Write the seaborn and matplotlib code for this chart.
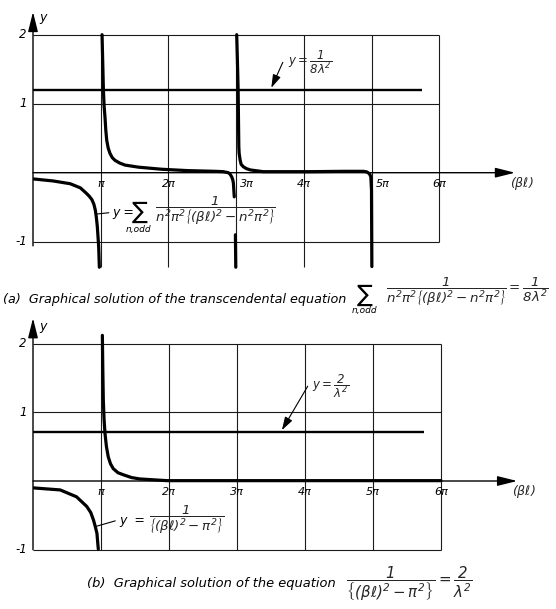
import matplotlib
matplotlib.use("Agg")
import matplotlib.pyplot as plt
import seaborn as sns

sns.set_style("white")
plt.rcParams["font.family"] = ["DejaVu Sans"]
plt.rcParams["mathtext.fontset"] = "custom"
plt.rcParams["mathtext.rm"] = "DejaVu Sans:italic"
plt.rcParams["mathtext.it"] = "DejaVu Sans:italic"
plt.rcParams["mathtext.bf"] = "DejaVu Sans:bold:italic"

# All abscissae are in multiples of pi (beta*l / pi).
# ---- panel (a): sum over odd n ----
a_neg1_x = [0.00, 0.30, 0.55, 0.70, 0.79, 0.83, 0.87, 0.90, 0.92, 0.935, 0.95, 0.97, 0.98]
a_neg1_y = [-0.09, -0.12, -0.16, -0.22, -0.30, -0.34, -0.39, -0.46, -0.54, -0.64, -0.78, -1.07, -1.37]

a_pos1_x = [1.02, 1.03, 1.04, 1.05, 1.063, 1.075, 1.089, 1.11, 1.137, 1.17, 1.21, 1.28,
            1.36, 1.56, 1.90, 2.29, 2.69, 2.81, 2.885, 2.91, 2.935, 2.95, 2.96, 2.973]
a_pos1_y = [2.00, 1.60, 1.20, 0.97, 0.81, 0.62, 0.47, 0.36, 0.28, 0.22, 0.18, 0.14,
            0.11, 0.08, 0.05, 0.03, 0.02, 0.015, 0.00, -0.02, -0.06, -0.10, -0.15, -0.35]

a_tail3_x = [2.99, 2.995]
a_tail3_y = [-0.90, -1.37]

a_pos3_x = [3.009, 3.02, 3.03, 3.04, 3.045, 3.06, 3.075, 3.106, 3.15, 3.21, 3.40, 4.09,
            4.60, 4.88, 4.93, 4.95, 4.975, 4.99, 5.00, 5.005]
a_pos3_y = [2.00, 1.60, 1.20, 0.38, 0.28, 0.18, 0.12, 0.087, 0.06, 0.04, 0.015, 0.015,
            0.02, 0.02, 0.012, 0.00, -0.025, -0.06, -0.25, -1.36]

a_level = 1.20          # y = 1/(8 lambda^2)
a_level_end = 5.75

# ---- panel (b): single term ----
b_neg_x = [0.00, 0.40, 0.64, 0.79, 0.85, 0.89, 0.915, 0.94, 0.96]
b_neg_y = [-0.10, -0.13, -0.23, -0.37, -0.46, -0.57, -0.66, -0.76, -0.99]

b_pos_x = [1.02, 1.027, 1.034, 1.045, 1.059, 1.08, 1.107, 1.14, 1.18, 1.25, 1.33,
           1.45, 1.57, 1.97, 3.0, 4.5, 6.0]
b_pos_y = [2.12, 1.60, 1.18, 0.90, 0.69, 0.50, 0.35, 0.25, 0.18, 0.12, 0.09,
           0.05, 0.03, 0.005, 0.005, 0.005, 0.005]

b_level = 0.72          # y = 2/lambda^2
b_level_end = 5.75

x_ticks = [1, 2, 3, 4, 5, 6]
x_tick_labels = ["π", "2π", "3π", "4π", "5π", "6π"]
y_ticks = [2, 1, -1]
y_tick_labels = ["2", "1", "-1"]

W, H = 556, 609
fig = plt.figure(figsize=(W / 100, H / 100), dpi=100)
fig.patch.set_facecolor("white")


def px_axes(left, top, width, height):
    return fig.add_axes([left / W, 1 - (top + height) / H, width / W, height / H])


ax_a = px_axes(33, 3.65, 7.3 * 67.7, 3.9 * 69)
ax_a.set_xlim(0, 7.3)
ax_a.set_ylim(-1.45, 2.45)

ax_b = px_axes(33, 309.25, 7.3 * 68, 3.7 * 68.7)
ax_b.set_xlim(0, 7.3)
ax_b.set_ylim(-1.2, 2.5)

GRID = dict(color="#1a1a1a", lw=0.8, zorder=1)
CURVE = dict(color="black", linewidth=2.3, sort=False, estimator=None, zorder=4)
TXT = dict(style="italic", color="black")

for ax in (ax_a, ax_b):
    ax.set_axis_off()
    ax.hlines([2, 1, -1], 0, 6, **GRID)

# grid verticals: in (a) the interior lines run down past -1
ax_a.vlines(x_ticks[:-1], -1.37, 2, **GRID)
ax_a.vlines([6], -1, 2, **GRID)
ax_b.vlines(x_ticks, -1, 2, **GRID)

# axes with arrow heads
arrow = dict(arrowstyle="-|>,head_length=1.2,head_width=0.3", color="black",
             lw=1.0, shrinkA=0, shrinkB=0, mutation_scale=10)
ax_a.annotate("", xy=(7.12, 0), xytext=(0, 0), arrowprops=arrow, zorder=3)
ax_a.annotate("", xy=(0, 2.33), xytext=(0, -1.06), arrowprops=arrow, zorder=3)
ax_b.annotate("", xy=(7.12, 0), xytext=(0, 0), arrowprops=arrow, zorder=3)
ax_b.annotate("", xy=(0, 2.37), xytext=(0, -1.0), arrowprops=arrow, zorder=3)

# curves
sns.lineplot(x=a_neg1_x, y=a_neg1_y, ax=ax_a, **CURVE)
sns.lineplot(x=a_pos1_x, y=a_pos1_y, ax=ax_a, **CURVE)
sns.lineplot(x=a_tail3_x, y=a_tail3_y, ax=ax_a, **CURVE)
sns.lineplot(x=a_pos3_x, y=a_pos3_y, ax=ax_a, **CURVE)
sns.lineplot(x=b_neg_x, y=b_neg_y, ax=ax_b, **CURVE)
sns.lineplot(x=b_pos_x, y=b_pos_y, ax=ax_b, **CURVE)

ax_a.hlines(a_level, 0, a_level_end, color="black", lw=1.7, zorder=3)
ax_b.hlines(b_level, 0, b_level_end, color="black", lw=1.7, zorder=3)

# tick labels
a_offsets = [0, 0, 0.05, 0, 0.06, 0]
a_has = ["center", "center", "left", "center", "left", "center"]
for k, lab, dx, ha in zip(x_ticks, x_tick_labels, a_offsets, a_has):
    ax_a.text(k + dx, -0.16, lab, ha=ha, va="center", fontsize=8, **TXT)
for k, lab in zip(x_ticks, x_tick_labels):
    ax_b.text(k, -0.16, lab, ha="center", va="center", fontsize=8, **TXT)
for ax in (ax_a, ax_b):
    for v, lab in zip(y_ticks, y_tick_labels):
        ax.text(-0.09, v, lab, ha="right", va="center", fontsize=8.5, **TXT)
    ax.text(0.1, 2.25, "y", ha="left", va="center", fontsize=9, **TXT)
    ax.text(7.04, -0.16, r"$(\beta\ell)$", ha="left", va="center", fontsize=9)

# annotations, panel (a)
small_arrow = dict(arrowstyle="-|>,head_length=0.8,head_width=0.25", color="black",
                   lw=0.8, shrinkA=0, shrinkB=0, mutation_scale=10)
ax_a.annotate("", xy=(3.52, 1.23), xytext=(3.69, 1.60), arrowprops=small_arrow)
ax_a.text(3.77, 1.60, r"$y=\dfrac{1}{8\lambda^2}$", ha="left", va="center", fontsize=8.5)

ax_a.plot([0.935, 1.12], [-0.60, -0.58], color="black", lw=0.8)
ax_a.text(1.17, -0.58, "y =", ha="left", va="center", fontsize=9, **TXT)
ax_a.text(1.58, -0.57, "∑", ha="center", va="center", fontsize=17, **TXT)
ax_a.text(1.56, -0.82, "n,odd", ha="center", va="center", fontsize=6.5, **TXT)
ax_a.text(1.80, -0.56, r"$\dfrac{1}{n^2\pi^2\left\{(\beta\ell)^2-n^2\pi^2\right\}}$",
          ha="left", va="center", fontsize=9.6)

# annotations, panel (b)
ax_b.annotate("", xy=(3.66, 0.74), xytext=(4.04, 1.38), arrowprops=small_arrow)
ax_b.text(4.1, 1.38, r"$y=\dfrac{2}{\lambda^2}$", ha="left", va="center", fontsize=8.5)
ax_b.plot([0.93, 1.21], [-0.66, -0.58], color="black", lw=0.8)
ax_b.text(1.27, -0.58, "y  =", ha="left", va="center", fontsize=9, **TXT)
ax_b.text(1.70, -0.56, r"$\dfrac{1}{\left\{(\beta\ell)^2-\pi^2\right\}}$",
          ha="left", va="center", fontsize=9.6)


# captions
def fig_text(x, y, s, **kw):
    fig.text(x / W, 1 - y / H, s, **kw)


fig_text(3, 299, "(a)  Graphical solution of the transcendental equation",
         ha="left", va="center", fontsize=9.2, **TXT)
fig_text(365, 295, "∑", ha="center", va="center", fontsize=17, **TXT)
fig_text(365, 311, "n,odd", ha="center", va="center", fontsize=6.5, **TXT)
fig_text(386, 292,
         r"$\dfrac{1}{n^2\pi^2\left\{(\beta\ell)^2-n^2\pi^2\right\}}=\dfrac{1}{8\lambda^2}$",
         ha="left", va="center", fontsize=9.6)
fig_text(87, 584, "(b)  Graphical solution of the equation",
         ha="left", va="center", fontsize=9.4, **TXT)
fig_text(346, 584, r"$\dfrac{1}{\left\{(\beta\ell)^2-\pi^2\right\}}=\dfrac{2}{\lambda^2}$",
         ha="left", va="center", fontsize=10.8)

fig.savefig("out.png", dpi=100, facecolor="white")
